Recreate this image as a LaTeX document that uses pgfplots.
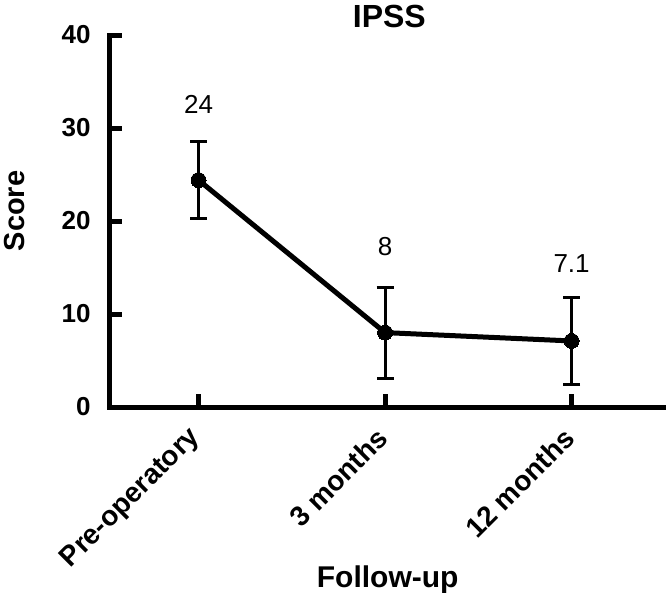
\documentclass[border=0pt]{standalone}
\usepackage{pgfplots}
\pgfplotsset{compat=1.18}
\usepackage{fontspec}
\setmainfont{Liberation Sans}
\begin{document}
\begin{tikzpicture}[x=1pt,y=1pt]
\path[use as bounding box] (0,0) rectangle (666,592);
\begin{axis}[
  at={(109pt,185pt)}, anchor=south west,
  scale only axis, width=554pt, height=372pt,
  xmin=-0.48, xmax=2.49, ymin=0, ymax=40,
  axis x line*=bottom, axis y line*=left,
  axis line style={-, line width=5pt, line cap=rect},
  xtick={0,1,2}, xticklabels={Pre-operatory,3 months,12 months},
  ytick={0,10,20,30,40},
  tick align=inside, major tick length=13pt,
  tick style={line width=5pt, black},
  /pgf/number format/assume math mode=true,
  yticklabel style={font=\bfseries\fontsize{26}{26}\selectfont, xshift=-15pt},
  xticklabel style={font=\bfseries\fontsize{28}{28}\selectfont, rotate=45, anchor=east},
  xticklabel shift=24pt,
  title={IPSS},
  title style={font=\bfseries\fontsize{32}{32}\selectfont, at={(axis description cs:0.506,1)}, anchor=base, yshift=2pt},
  xlabel={Follow-up},
  xlabel style={font=\bfseries\fontsize{30}{30}\selectfont, at={(axis description cs:0.503,0)}, anchor=base, yshift=-180pt},
  ylabel={Score},
  ylabel style={font=\bfseries\fontsize{29}{29}\selectfont, at={(axis description cs:-0.171,0.527)}, anchor=center},
  clip=false,
]
\addplot[black, line width=5pt, mark=*, mark size=7.5pt,
  mark options={solid, line width=0pt},
  error bars/.cd, y dir=both, y explicit,
  error bar style={line width=3pt, black},
  error mark options={rotate=90, mark size=8.5pt, line width=3pt, black}]
coordinates {
  (0,24.4) += (0,4.2) -= (0,4.1)
  (1,8.0) += (0,4.9) -= (0,4.9)
  (2,7.1) += (0,4.7) -= (0,4.7)
};
\node[anchor=base, font=\fontsize{26}{26}\selectfont] at (axis cs:0,31.6) {24};
\node[anchor=base, font=\fontsize{26}{26}\selectfont] at (axis cs:1,16.3) {8};
\node[anchor=base, font=\fontsize{26}{26}\selectfont] at (axis cs:2,14.5) {7.1};
\end{axis}
\end{tikzpicture}
\end{document}
